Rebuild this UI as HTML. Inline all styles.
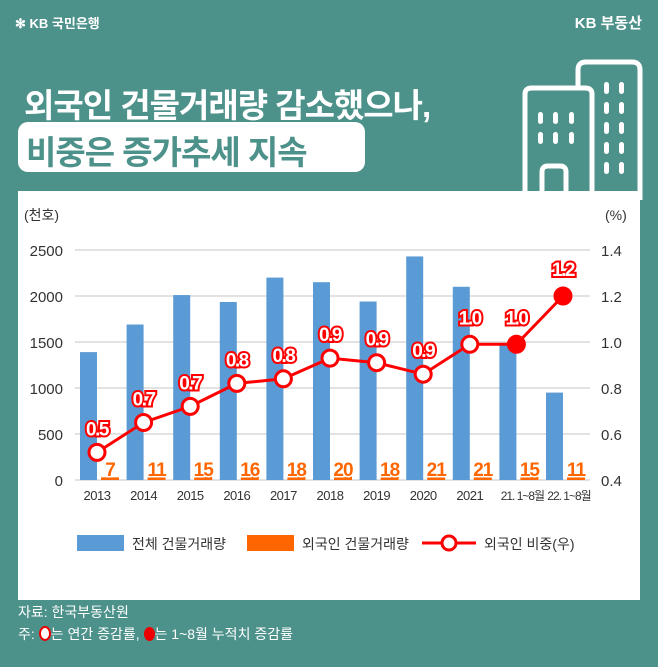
<!DOCTYPE html>
<html><head><meta charset="utf-8"><style>
body{margin:0;width:658px;height:667px;background:#4d918b;overflow:hidden;font-family:"Liberation Sans","Noto Sans CJK KR",sans-serif;position:relative}
.abs{position:absolute}
</style></head><body>
<div class="abs" style="left:15px;top:13px;color:#fff;font-size:13px;font-weight:bold">✻ KB 국민은행</div>
<div class="abs" style="right:16px;top:12px;color:#fff;font-size:15px;font-weight:bold">KB 부동산</div>
<svg class="abs" style="left:0;top:0" width="658" height="200">
<g fill="none" stroke="#fff" stroke-width="5">
<path d="M578 200 V70 Q578 62 586 62 H632 Q640 62 640 70 V200"/>
<path d="M525 200 V94 Q525 88 532 88 H585 Q592 88 592 94 V200" fill="#4d918b"/>
<path d="M542 200 V172 Q542 166 548 166 H560 Q566 166 566 172 V200"/>
</g>
<g fill="#fff">
<rect x="604" y="82" width="5" height="12" rx="2.5"/><rect x="619" y="82" width="5" height="12" rx="2.5"/>
<rect x="604" y="102" width="5" height="12" rx="2.5"/><rect x="619" y="102" width="5" height="12" rx="2.5"/>
<rect x="604" y="122" width="5" height="12" rx="2.5"/><rect x="619" y="122" width="5" height="12" rx="2.5"/>
<rect x="604" y="142" width="5" height="12" rx="2.5"/><rect x="619" y="142" width="5" height="12" rx="2.5"/>
<rect x="604" y="162" width="5" height="12" rx="2.5"/><rect x="619" y="162" width="5" height="12" rx="2.5"/>
<rect x="538" y="112" width="5" height="12" rx="2.5"/><rect x="553" y="112" width="5" height="12" rx="2.5"/><rect x="569" y="112" width="5" height="12" rx="2.5"/>
<rect x="538" y="132" width="5" height="12" rx="2.5"/><rect x="553" y="132" width="5" height="12" rx="2.5"/><rect x="569" y="132" width="5" height="12" rx="2.5"/>
</g></svg>
<div class="abs" style="left:24px;top:79px;color:#fff;font-size:33px;font-weight:bold;letter-spacing:-1px">외국인 건물거래량 감소했으나,</div>
<div class="abs" style="left:18px;top:122px;width:347px;height:50px;background:#fff;border-radius:10px"></div>
<div class="abs" style="left:26px;top:126px;color:#4d918b;font-size:33px;font-weight:bold;letter-spacing:-1px">비중은 증가추세 지속</div>
<div class="abs" style="left:18px;top:191px;width:622px;height:409px;background:#fff"></div>
<svg id="chart" class="abs" style="left:0;top:0" width="658" height="600"></svg>
<div class="abs" style="left:18px;top:602px;color:#fff;font-size:14px">자료: 한국부동산원</div>
<div class="abs" style="left:18px;top:624px;color:#fff;font-size:14px">주: <span style="display:inline-block;width:8px;height:11px;border:2px solid #e00;border-radius:50%;background:#fff;vertical-align:-2px"></span>는 연간 증감률, <span style="display:inline-block;width:11px;height:14px;border-radius:50%;background:#e00;vertical-align:-2px"></span>는 1~8월 누적치 증감률</div>
<script>
const categories=["2013","2014","2015","2016","2017","2018","2019","2020","2021","21. 1~8월","22. 1~8월"];
const totalVolume=[1390,1690,2010,1935,2200,2150,1940,2430,2100,1480,950];
const foreignVolume=[7,11,15,16,18,20,18,21,21,15,11];
const foreignShare=[0.52,0.65,0.72,0.82,0.84,0.93,0.91,0.86,0.99,0.99,1.2];
const shareLabels=["0.5","0.7","0.7","0.8","0.8","0.9","0.9","0.9","1.0","1.0","1.2"];
const leftTicks=[0,500,1000,1500,2000,2500];
const rightTicks=["0.4","0.6","0.8","1.0","1.2","1.4"];
const svg=document.getElementById('chart');const NS='http://www.w3.org/2000/svg';
function mk(t,a,txt){const e=document.createElementNS(NS,t);for(const k in a)e.setAttribute(k,a[k]);if(txt!==undefined)e.textContent=txt;svg.appendChild(e);return e;}
const yL=v=>480-v/2500*230, yR=v=>480-(v-0.4)/1.0*230, xC=i=>97+i*46.6;
leftTicks.forEach((t,i)=>{const g=mk('line',{x1:75,x2:590,y1:yL(t),y2:yL(t),stroke:'#d9d9d9','stroke-width':1.5});

const l=mk('text',{x:63,y:yL(t)+6,'text-anchor':'end','font-size':15,fill:'#333'},t);

const r=mk('text',{x:601,y:yL(t)+6,'font-size':15,fill:'#333'},rightTicks[i]);
});
let t1=mk('text',{x:24,y:220,'font-size':14,fill:'#333'},'(천호)');
let t2=mk('text',{x:605,y:220,'font-size':14,fill:'#333'},'(%)');
categories.forEach((c,i)=>{const x=xC(i);
const b=mk('rect',{x:x-17,y:yL(totalVolume[i]),width:17,height:480-yL(totalVolume[i]),fill:'#5b9bd5'});

const o=mk('rect',{x:x+4,y:yL(foreignVolume[i])-2,width:18,height:480-yL(foreignVolume[i])+2,fill:'#ff6600'});

const ol=mk('text',{x:x+13,y:476,'text-anchor':'middle','font-size':19,'font-weight':'bold',fill:'#ff6600',stroke:'#fff','stroke-width':3,'paint-order':'stroke','letter-spacing':'-1'},foreignVolume[i]);

const cl=mk('text',{x:x+(i>=9?6:0),y:500,'text-anchor':'middle','font-size':i>=9?12:13,fill:'#333','letter-spacing':i>=9?'-1':'-0.5'},c);
});
const pts=foreignShare.map((v,i)=>xC(i)+','+yR(v)).join(' ');
const pl=mk('polyline',{points:pts,fill:'none',stroke:'#f00','stroke-width':3});

foreignShare.forEach((v,i)=>{const filled=i>=9;
const c=mk('circle',{cx:xC(i),cy:yR(v),r:8,fill:filled?'#f00':'#fff',stroke:'#f00','stroke-width':3});

const l=mk('text',{x:xC(i),y:yR(v)-(i>=8?20:17),'text-anchor':'middle','font-size':19,'font-weight':'bold',fill:'#fff',stroke:'#f00','stroke-width':4,'paint-order':'stroke','letter-spacing':'-1.5'},shareLabels[i]);
});
let lg=mk('rect',{x:77,y:535,width:47,height:16,fill:'#5b9bd5'});
lg=mk('text',{x:132,y:549,'font-size':14,fill:'#333'},'전체 건물거래량');
lg=mk('rect',{x:247,y:535,width:47,height:16,fill:'#ff6600'});
lg=mk('text',{x:302,y:549,'font-size':14,fill:'#333'},'외국인 건물거래량');
lg=mk('line',{x1:422,x2:476,y1:543,y2:543,stroke:'#f00','stroke-width':3});
lg=mk('circle',{cx:449,cy:543,r:7,fill:'#fff',stroke:'#f00','stroke-width':3});
lg=mk('text',{x:484,y:549,'font-size':14,fill:'#333'},'외국인 비중(우)');
</script>
</body></html>
